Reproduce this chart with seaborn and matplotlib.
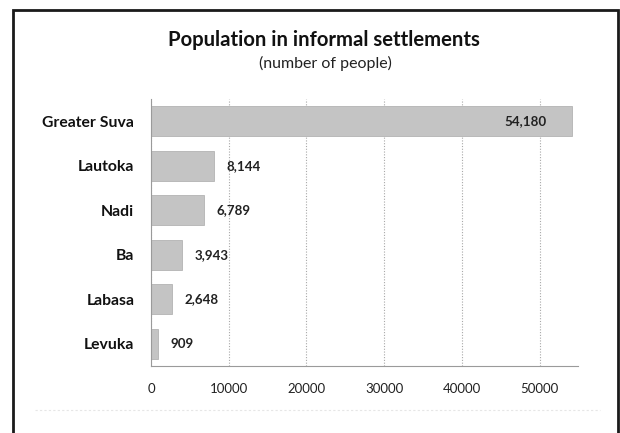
import matplotlib
matplotlib.use("Agg")
import matplotlib.pyplot as plt
import seaborn as sns
import pandas as pd
from matplotlib.patches import Rectangle
from matplotlib.lines import Line2D

# Data
towns = ["Greater Suva", "Lautoka", "Nadi", "Ba", "Labasa", "Levuka"]
population = [54180, 8144, 6789, 3943, 2648, 909]
x_ticks = [0, 10000, 20000, 30000, 40000, 50000]

df = pd.DataFrame({"town": towns, "population": population})

sns.set_style("white")
plt.rcParams["font.family"] = ["Lato", "DejaVu Sans"]

W, H = 620, 433
fig = plt.figure(figsize=(W / 100, H / 100), dpi=100)
fig.patch.set_facecolor("white")

# plot area in pixel terms
left, right, top, bottom = 151, 578, 99, 366
ax = fig.add_axes([left / W, 1 - bottom / H, (right - left) / W, (bottom - top) / H])

sns.barplot(data=df, y="town", x="population", orient="h", ax=ax,
            color="#c4c4c4", width=0.67, edgecolor="#b3b3b3", linewidth=0.6,
            saturation=1)

ax.set_xlim(0, 54950)
ax.set_ylim(len(towns) - 0.5, -0.5)
ax.set_xlabel("")
ax.set_ylabel("")

# vertical dotted gridlines
ax.set_xticks(x_ticks)
ax.set_xticklabels([str(v) for v in x_ticks], fontsize=9.5, color="#222222")
ax.xaxis.grid(True, linestyle=(0, (1, 1.5)), color="#a8a8a8", linewidth=0.8)
ax.set_axisbelow(True)

for s in ["top", "right"]:
    ax.spines[s].set_visible(False)
for s in ["left", "bottom"]:
    ax.spines[s].set_color("#9a9a9a")
    ax.spines[s].set_linewidth(0.8)

ax.tick_params(axis="x", direction="inout", length=5, width=0.8, color="#9a9a9a", pad=10)
ax.tick_params(axis="y", which="major", length=0, pad=12)
ax.set_yticks([i + 0.5 for i in range(-1, len(towns))], minor=True)
ax.tick_params(axis="y", which="minor", direction="out", length=4, width=0.8, color="#9a9a9a")
for lab in ax.get_yticklabels():
    lab.set_fontweight("bold")
    lab.set_fontsize(11.3)
    lab.set_color("#111111")

# value labels
for i, (bar, v) in enumerate(zip(ax.patches, population)):
    txt = f"{v:,}"
    yc = bar.get_y() + bar.get_height() / 2
    if i == 0:
        ax.annotate(txt, (v, yc), xytext=(-18, 0), textcoords="offset points",
                    ha="right", va="center", fontsize=9.6, fontweight="bold", color="#222222")
    else:
        ax.annotate(txt, (v, yc), xytext=(9, 0), textcoords="offset points",
                    ha="left", va="center", fontsize=9.6, fontweight="bold", color="#222222")

# titles
fig.text(324 / W, 1 - 40 / H, "Population in informal settlements", ha="center", va="center",
         fontsize=14.6, fontweight="bold", color="#111111")
fig.text(325 / W, 1 - 63 / H, "(number of people)", ha="center", va="center",
         fontsize=11.5, color="#222222")

# outer chart frame (bottom edge lies below the canvas)
fig.patches.append(Rectangle((13 / W, -0.05), (618 - 13) / W, 1 - 10 / H + 0.05,
                             transform=fig.transFigure, fill=False,
                             edgecolor="#1a1a1a", linewidth=2.0))
# faint line near the bottom
fig.lines.append(Line2D([35 / W, 600 / W], [1 - 410 / H, 1 - 410 / H], transform=fig.transFigure,
                        color="#e6e6e6", linewidth=0.8, linestyle=(0, (2, 2))))

fig.savefig("out.png", dpi=100, facecolor="white")
